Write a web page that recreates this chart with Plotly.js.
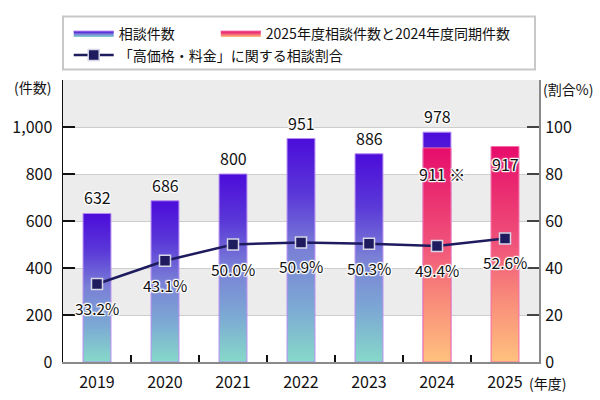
<!DOCTYPE html>
<html>
<head>
<meta charset="utf-8">
<script src="https://cdn.plot.ly/plotly-3.0.1.min.js"></script>
<style>
  html, body { margin: 0; padding: 0; background: #fff; }
  #chart { width: 600px; height: 400px; }
</style>
</head>
<body>
<div id="chart"></div>
<script>
// Fiscal years on the horizontal axis
const years = ['2019', '2020', '2021', '2022', '2023', '2024', '2025'];
// Total consultations per fiscal year (left axis)
const consultCounts = [632, 686, 800, 951, 886, 978, null];
// FY2025 consultations and FY2024 figure for the same period (left axis)
const sameTermCounts = [null, null, null, null, null, 911, 917];
const sameTermNotes = ['', '', '', '', '', ' ※', ''];
// Share of consultations about "high price / fees" (right axis, %)
const priceShare = [33.2, 43.1, 50.0, 50.9, 50.3, 49.4, 52.6];

const FONT = '"Noto Sans CJK JP", "Noto Sans", sans-serif';
const INK = '#111111';
const HALO = '1px 1px 1px #fff, -1px -1px 1px #fff, 1px -1px 1px #fff, -1px 1px 1px #fff, 0 1px 1px #fff, 0 -1px 1px #fff, 1px 0 1px #fff, -1px 0 1px #fff';
const BAR_HALF = 0.205;

const blueScale = [[0, '#86D9C9'], [0.25, '#7CA8D4'], [0.5, '#7A80D6'], [0.75, '#5A38D8'], [1, '#4C0CDA']];
const pinkScale = [[0, '#FFC27E'], [0.3, '#F88A7A'], [0.55, '#F0527A'], [0.8, '#EA2C70'], [1, '#E70C6C']];

// Each bar is a closed outline filled with a vertical gradient
function barTrace(i, value, scale, edge, name, group, legendId, first) {
  return {
    type: 'scatter', mode: 'lines', fill: 'toself',
    x: [i - BAR_HALF, i - BAR_HALF, i + BAR_HALF, i + BAR_HALF, i - BAR_HALF],
    y: [0, value, value, 0, 0],
    line: { color: edge, width: 1 },
    fillgradient: { type: 'vertical', colorscale: scale },
    name: name, legendgroup: group, showlegend: first, legend: legendId,
    hoverinfo: 'skip'
  };
}

const traces = [];
let firstBlue = true;
consultCounts.forEach((v, i) => {
  if (v == null) return;
  traces.push(barTrace(i, v, blueScale, '#B68CF2', '相談件数', 'blue', 'legend', firstBlue));
  firstBlue = false;
});
let firstPink = true;
sameTermCounts.forEach((v, i) => {
  if (v == null) return;
  traces.push(barTrace(i, v, pinkScale, '#F46AA6', '2025年度相談件数と2024年度同期件数', 'pink', 'legend3', firstPink));
  firstPink = false;
});

traces.push({
  type: 'scatter', mode: 'lines+markers',
  x: years.map((_, i) => i), y: priceShare,
  xaxis: 'x2', yaxis: 'y2',
  line: { color: '#1E1B5E', width: 2.5 },
  marker: { symbol: 'square', size: 11, color: '#1E1B5E', line: { color: '#D6D6E6', width: 1.5 } },
  name: '「高価格・料金」に関する相談割合', legend: 'legend2',
  hoverinfo: 'skip'
});

const annotations = [];
const labelFont = { family: FONT, size: 16, color: INK, shadow: HALO };
const pctFont = { family: FONT, size: 15.5, color: INK, shadow: HALO };
// Count labels above the blue bars (2024 shows its total above the bar)
consultCounts.forEach((v, i) => {
  if (v == null) return;
  annotations.push({ x: i, y: v, xref: 'x', yref: 'y', text: String(v), showarrow: false,
    yanchor: 'bottom', yshift: 2, font: labelFont });
});
// Same-period labels sit inside the top of the pink bars
sameTermCounts.forEach((v, i) => {
  if (v == null) return;
  const note = sameTermNotes[i];
  annotations.push({ x: i, y: v, xref: 'x', yref: 'y', text: String(v) + note, showarrow: false,
    yanchor: 'top', yshift: note ? -12 : -3, xshift: note ? 5 : 0, font: labelFont });
});
// Percentage labels under each marker
priceShare.forEach((p, i) => {
  annotations.push({ x: i, y: p, xref: 'x2', yref: 'y2', text: p.toFixed(1) + '%', showarrow: false,
    yanchor: 'top', yshift: -11, font: pctFont });
});
// Axis unit captions
const capFont = { family: FONT, size: 14, color: INK };
annotations.push({ xref: 'paper', yref: 'paper', x: -0.021, y: 0.9745, xanchor: 'right', yanchor: 'middle',
  text: '(件数)', showarrow: false, font: capFont });
annotations.push({ xref: 'paper', yref: 'paper', x: 1.004, y: 0.969, xanchor: 'left', yanchor: 'middle',
  text: '(割合%)', showarrow: false, font: capFont });
annotations.push({ xref: 'paper', yref: 'paper', x: 0.975, y: 0, xanchor: 'left', yanchor: 'top', yshift: -9,
  text: '(年度)', showarrow: false, font: capFont });

// Alternating grey bands behind the bars
const bandEdges = [[200, 400], [600, 800], [1000, 1200]];
const shapes = bandEdges.map(([a, b]) => ({
  type: 'rect', xref: 'paper', yref: 'y', x0: 0, x1: 1, y0: a, y1: b,
  fillcolor: '#ECECEC', line: { width: 0 }, layer: 'below'
}));
// Legend frame
shapes.push({
  type: 'rect', xref: 'paper', yref: 'paper', x0: 0, x1: 0.9916, y0: 1.037, y1: 1.2248,
  fillcolor: '#ffffff', line: { color: '#C8C8C8', width: 2 }, layer: 'below'
});

const legendBase = {
  orientation: 'h', xanchor: 'left', yanchor: 'middle',
  bgcolor: 'rgba(0,0,0,0)', borderwidth: 0, font: { size: 14, color: INK },
  itemwidth: 40
};

const layout = {
  width: 600, height: 400,
  margin: { l: 63, r: 61, t: 79.5, b: 38 },
  paper_bgcolor: '#ffffff', plot_bgcolor: 'rgba(0,0,0,0)',
  font: { family: FONT, size: 16, color: INK },
  xaxis: {
    range: [-0.5, 6.5], tickvals: years.map((_, i) => i), ticktext: years,
    ticks: '', showgrid: false, zeroline: false,
    showline: true, linecolor: '#8A8A8A', linewidth: 2,
    tickfont: { size: 16 }, ticklabelstandoff: 5, fixedrange: true
  },
  xaxis2: {
    overlaying: 'x', anchor: 'y2', range: [-0.5, 6.5],
    tickvals: years.slice(1).map((_, i) => i + 0.5),
    ticks: 'inside', ticklen: 7, tickwidth: 2, tickcolor: '#111',
    showticklabels: false, showgrid: false, zeroline: false, showline: false
  },
  yaxis: {
    range: [0, 1200], tickvals: [0, 200, 400, 600, 800, 1000], tickformat: ',d',
    ticks: 'inside', ticklen: 12, tickwidth: 1.5, tickcolor: '#111',
    showline: true, linecolor: '#111', linewidth: 1.5,
    showgrid: true, gridcolor: '#CDCDCD', gridwidth: 1, zeroline: false,
    tickfont: { size: 16 }, ticklabelstandoff: 6
  },
  yaxis2: {
    overlaying: 'y', side: 'right', anchor: 'x2', range: [0, 120],
    tickvals: [0, 20, 40, 60, 80, 100],
    ticks: 'inside', ticklen: 12, tickwidth: 1.5, tickcolor: '#444',
    showline: true, linecolor: '#8A8A8A', linewidth: 2,
    showgrid: false, zeroline: false,
    tickfont: { size: 16 }, ticklabelstandoff: 1
  },
  legend: Object.assign({}, legendBase, { x: 0.012, y: 1.165 }),
  legend3: Object.assign({}, legendBase, { x: 0.321, y: 1.165 }),
  legend2: Object.assign({}, legendBase, { x: 0.012, y: 1.087 }),
  annotations: annotations,
  shapes: shapes,
  showlegend: true
};

Plotly.newPlot('chart', traces, layout, { staticPlot: true, displayModeBar: false });
</script>
</body>
</html>
